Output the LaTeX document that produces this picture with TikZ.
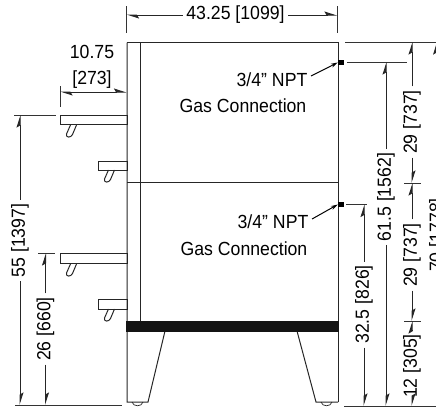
\documentclass[tikz,border=0pt]{standalone}
\usepackage{fontspec}
\setmainfont[FakeStretch=0.93]{Liberation Sans}
\usetikzlibrary{arrows.meta}
\tikzset{
  font={\fontsize{19pt}{27pt}\selectfont},
  dimtip/.tip={Stealth[harpoon,length=11pt,width=7pt,inset=2pt]},
  lbl/.style={inner sep=3.5pt,text=black},
  dimlbl/.style={lbl,rotate=90},
  part/.style={draw=black!85,line width=1pt},
  extline/.style={draw=black!80,line width=0.9pt},
  dimline/.style={draw=black!85,line width=1pt,-dimtip},
  gasblock/.style={fill=black,inner sep=0pt,minimum width=6pt,minimum height=5pt},
  leader/.style={draw=black,line width=1pt,-{Stealth[length=7pt,width=4pt]}}}
\begin{document}
\begin{tikzpicture}[x=1pt,y=-1pt]
\useasboundingbox (0,0) rectangle (436,408);
\draw [part] (127,42.5) -- (338,42.5) -- (338,402);
\draw [part] (127,42.5) -- (127,402) -- (148,402) -- (165,331);
\draw [part] (140,42.5) -- (140,321);
\draw [part] (127,182) -- (338,182);
\draw [part] (297,331) -- (316,402) -- (338,402);
\fill [black!92] (126,321) rectangle (338.5,331.5);
\draw [part,line width=0.7pt] (132,402) .. controls (133,407) and (142,407) .. (143,402);
\draw [part,line width=0.7pt] (321,402) .. controls (322,407) and (331,407) .. (332,402);
\draw [part] (60,115) rectangle (127,124.5);
\draw [part] (98.5,161) rectangle (127,170);
\draw [part] (60,253.5) rectangle (127,263.5);
\draw [part] (98.5,299.5) rectangle (127,309);
\draw [part] (70.5,125) -- (66.5,134) .. controls (65.5,138) and (71,138) .. (72.5,134.5) -- (76.5,125);
\draw [part] (108.5,170) -- (104.5,179) .. controls (103.5,183) and (109,183) .. (110.5,179.5) -- (114.5,170);
\draw [part] (70.5,264) -- (66.5,273) .. controls (65.5,277) and (71,277) .. (72.5,273.5) -- (76.5,264);
\draw [part] (108.5,309) -- (104.5,318) .. controls (103.5,322) and (109,322) .. (110.5,318.5) -- (114.5,309);
\node [gasblock] (blocktop) at (341,62.5) {};
\node [gasblock] (blockbot) at (341,204.5) {};
\node [lbl] (npttop) at (272,80) {3/4” NPT};
\node [lbl] (gastop) at (243,106) {Gas Connection};
\node [lbl] (nptbot) at (273,222) {3/4” NPT};
\node [lbl] (gasbot) at (244,249) {Gas Connection};
\draw [leader] ([yshift=4pt]npttop.east) -- (blocktop.west);
\draw [leader] ([yshift=3pt]nptbot.east) -- (blockbot.west);
\coordinate (widthl) at (126.5,15);
\coordinate (widthr) at (337,15);
\coordinate (depthl) at (60,92);
\coordinate (depthr) at (126.5,92);
\coordinate (base) at (20,405);
\coordinate (shelfa) at (20,115);
\coordinate (basea) at (45.5,405);
\coordinate (shelfb) at (45.5,253);
\coordinate (gasa) at (386,62);
\coordinate (gasafoot) at (386,406);
\coordinate (gasb) at (364,204.5);
\coordinate (gasbfoot) at (364,406);
\coordinate (tophi) at (412,42);
\coordinate (joinhi) at (412,183);
\coordinate (joinlo) at (412,321);
\coordinate (toefoot) at (412,406);
\coordinate (alltop) at (436.5,42);
\draw [extline] (126.5,6) -- (126.5,33);
\draw [extline] (337,6) -- (337,33);
\draw [extline] (60,86) -- (60,107);
\draw [extline] (14,115) -- (56,115);
\draw [extline] (38,253) -- (55,253);
\draw [extline] (15,405) -- (122,405);
\draw [extline] (345,42) -- (436,42);
\draw [extline] (347,62) -- (407,62);
\draw [extline] (346,204.5) -- (367,204.5);
\draw [extline] (404,183) -- (421,183);
\draw [extline] (404,321) -- (421,321);
\draw [extline] (344,406) -- (436,406);
\node [lbl] (widthdim) at (235.5,15) {43.25 [1099]};
\node [lbl] (depthtxt) at (92,52) {10.75};
\node [lbl] (depthdim) at (92,80) {[273]};
\node [dimlbl] (shelfadim) at (20,240.5) {55 [1397]};
\node [dimlbl] (shelfbdim) at (45.5,329) {26 [660]};
\node [dimlbl] (gasadim) at (386,197) {61.5 [1562]};
\node [dimlbl] (gasbdim) at (364,304.5) {32.5 [826]};
\node [dimlbl] (tophidim) at (412,122) {29 [737]};
\node [dimlbl] (lowdim) at (412,255) {29 [737]};
\node [dimlbl] (toedim) at (412,366) {12 [305]};
\node [dimlbl] (alldim) at (438,235) {70 [1778]};
\draw [dimline] (widthdim) -- (widthl);
\draw [dimline] (widthdim) -- (widthr);
\draw [dimline,dimtip-dimtip] (depthl) -- (depthr);
\draw [dimline] (shelfadim) -- (shelfa);
\draw [dimline] (shelfadim) -- (base);
\draw [dimline] (shelfbdim) -- (shelfb);
\draw [dimline] (shelfbdim) -- (basea);
\draw [dimline] (gasadim) -- (gasa);
\draw [dimline] (gasadim) -- (gasafoot);
\draw [dimline] (gasbdim) -- (gasb);
\draw [dimline] (gasbdim) -- (gasbfoot);
\draw [dimline] (tophidim) -- (tophi);
\draw [dimline] (tophidim) -- (joinhi);
\draw [dimline] (lowdim) -- (joinhi);
\draw [dimline] (lowdim) -- (joinlo);
\draw [dimline] (toedim) -- (joinlo);
\draw [dimline] (toedim) -- (toefoot);
\draw [dimline] (alldim) -- (alltop);
\end{tikzpicture}
\end{document}
